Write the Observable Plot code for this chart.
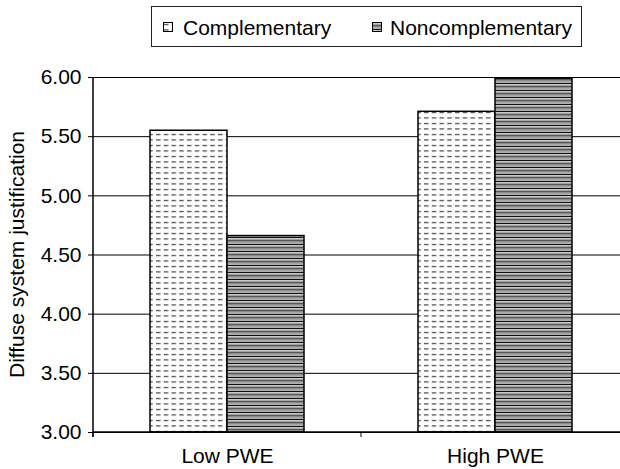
<!DOCTYPE html>
<html>
<head>
<meta charset="utf-8">
<script src="https://cdn.jsdelivr.net/npm/d3@7"></script>
<script src="https://cdn.jsdelivr.net/npm/@observablehq/plot@0.6"></script>
<style>
  html, body { margin: 0; padding: 0; background: white; }
  body { width: 620px; height: 469px; overflow: hidden; font-family: "Liberation Sans", Arial, sans-serif; color: #000; }
  #legend { position: relative; height: 55px; }
  #legend .box { position: absolute; left: 151px; top: 6px; width: 431px; height: 41px; box-sizing: border-box; border: 1px solid #222; }
  #legend .sw { position: absolute; top: 15px; width: 10px; height: 10px; }
  #legend .lb { position: absolute; top: 9px; font-size: 21px; line-height: 24px; white-space: nowrap; }
</style>
</head>
<body>
<div id="legend"></div>
<div id="chart"></div>
<script>
const categories = ["Low PWE", "High PWE"];
const seriesNames = ["Complementary", "Noncomplementary"];
const complementary = [5.55, 5.71];
const noncomplementary = [4.66, 5.99];
const yTicks = [3.0, 3.5, 4.0, 4.5, 5.0, 5.5, 6.0];
const yLabel = "Diffuse system justification";

const patternIds = {"Complementary": "pat-comp", "Noncomplementary": "pat-noncomp"};

const data = categories.flatMap((c, i) => [
  {category: c, series: seriesNames[0], value: complementary[i]},
  {category: c, series: seriesNames[1], value: noncomplementary[i]}
]);

const plot = Plot.plot({
  width: 620,
  height: 414,
  marginTop: 22,
  marginBottom: 37,
  marginLeft: 93,
  marginRight: 0,
  style: {fontFamily: "'Liberation Sans', Arial, sans-serif", fontSize: "21px", color: "#000", background: "white"},
  fx: {domain: categories, range: [93, 629], padding: 0, label: null},
  x: {domain: seriesNames, paddingInner: 0, paddingOuter: 0.73, axis: null},
  y: {domain: [3, 6], label: null},
  marks: [
    Plot.gridY(yTicks, {stroke: "#000", strokeOpacity: 1, strokeWidth: 1}),
    ...seriesNames.map(s => Plot.barY(data.filter(d => d.series === s), {
      fx: "category", x: "series", y1: 3, y2: "value",
      fill: `url(#${patternIds[s]})`, stroke: "#000", strokeWidth: 1.5
    })),
    Plot.axisY(yTicks, {
      tickFormat: d3.format(".2f"), tickSize: 5, tickPadding: 7,
      label: null, fontSize: 21
    }),
    Plot.axisFx({anchor: "bottom", tickSize: 0, tickPadding: 16, label: null, fontSize: 21})
  ]
});

const svg = d3.select(plot);
svg.insert("defs", ":first-child").html(`
  <pattern id="pat-comp" patternUnits="userSpaceOnUse" width="7.75" height="5.5">
    <rect width="7.75" height="5.5" fill="#fff"/>
    <rect x="1" y="2" width="4.5" height="1" fill="#1a1a1a"/>
  </pattern>
  <pattern id="pat-noncomp" patternUnits="userSpaceOnUse" width="3.5" height="3.5">
    <rect width="3.5" height="3.5" fill="#fff"/>
    <rect y="0" width="3.5" height="1" fill="#000"/>
    <rect y="1.7" width="3.5" height="1.6" fill="#999"/>
  </pattern>
`);

// axis line, category boundary ticks and y label, positioned through Plot's scales
const fx = plot.scale("fx");
const y = plot.scale("y");
const x0 = fx.apply(categories[0]);
const y0 = y.apply(3), y1 = y.apply(6);
svg.append("line").attr("x1", x0).attr("x2", x0).attr("y1", y1).attr("y2", y0 + 5)
  .attr("stroke", "#000").attr("stroke-width", 1.5);
svg.append("line").attr("x1", x0).attr("x2", 620).attr("y1", y0).attr("y2", y0)
  .attr("stroke", "#000").attr("stroke-width", 1.5);
categories.forEach(c => {
  const xb = fx.apply(c);
  svg.append("line").attr("x1", xb).attr("x2", xb).attr("y1", y0).attr("y2", y0 + 5)
    .attr("stroke", "#000").attr("stroke-width", 1);
});
svg.append("text")
  .attr("transform", `translate(${x0 - 69},${(y0 + y1) / 2}) rotate(-90)`)
  .attr("text-anchor", "middle")
  .attr("font-size", 21)
  .attr("font-family", "'Liberation Sans', Arial, sans-serif")
  .attr("fill", "#000")
  .text(yLabel);

document.getElementById("chart").appendChild(plot);

// legend
const legend = d3.select("#legend").append("div").attr("class", "box");
const swLeft = [11, 220], lbLeft = [31, 238];
seriesNames.forEach((s, i) => {
  const sw = legend.append("svg").attr("class", "sw").style("left", swLeft[i] + "px")
    .attr("width", 10).attr("height", 10);
  sw.append("rect").attr("x", 0.5).attr("y", 0.5).attr("width", 9).attr("height", 9)
    .attr("fill", `url(#${patternIds[s]})`).attr("stroke", "#000").attr("stroke-width", 1);
  legend.append("div").attr("class", "lb").style("left", lbLeft[i] + "px").text(s);
});
</script>
</body>
</html>
